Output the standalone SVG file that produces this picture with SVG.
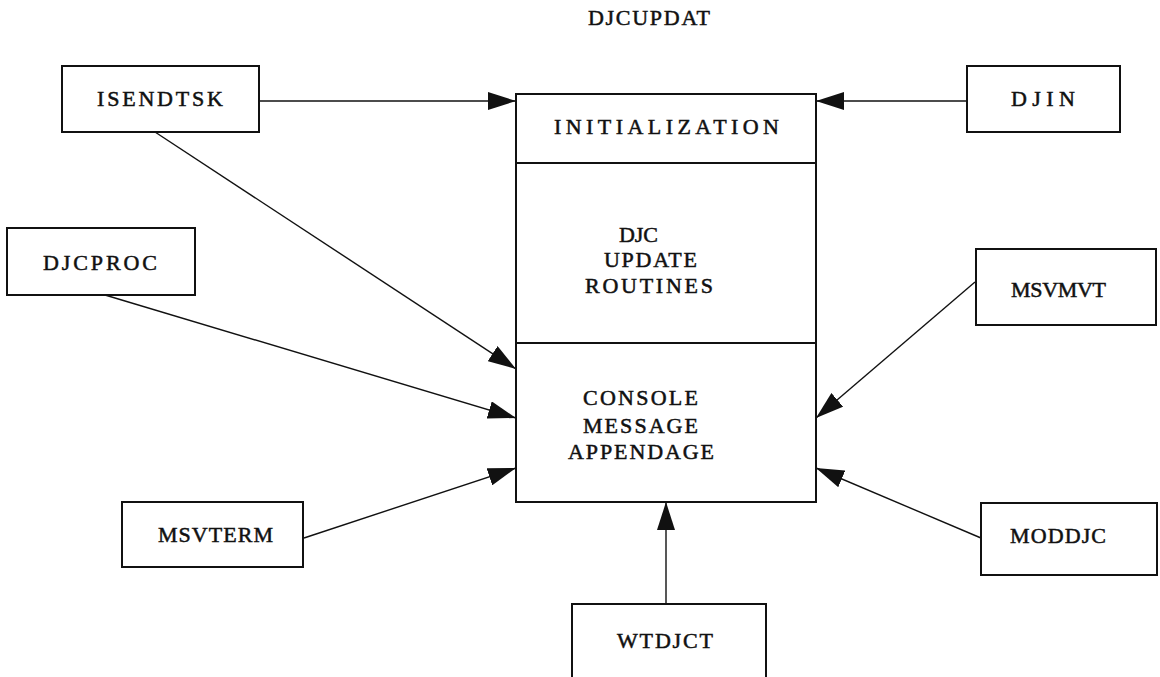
<svg xmlns="http://www.w3.org/2000/svg" width="1160" height="677" viewBox="0 0 1160 677">
<style>
.box{fill:#fff;stroke:#111;stroke-width:2}
.ln{fill:none;stroke:#111;stroke-width:1.4}
.t{font-family:"Liberation Serif","DejaVu Serif",serif;font-size:22px;fill:#111;stroke:#111;stroke-width:0.5}
</style>
<defs>
<marker id="ah" viewBox="0 0 28 18" refX="28" refY="9" markerWidth="28" markerHeight="18" markerUnits="userSpaceOnUse" orient="auto">
<path d="M0,0 L28,9 L0,18 Z" fill="#111"/>
</marker>
</defs>
<rect width="1160" height="677" fill="#fff"/>
<text id="title" class="t" x="588" y="25" textLength="122" lengthAdjust="spacing">DJCUPDAT</text>

<g id="connectors">
<line class="ln" x1="259" y1="101" x2="516" y2="101" marker-end="url(#ah)"/>
<line class="ln" x1="967" y1="101" x2="816" y2="101" marker-end="url(#ah)"/>
<line class="ln" x1="155" y1="132" x2="516" y2="369" marker-end="url(#ah)"/>
<line class="ln" x1="105" y1="295" x2="516" y2="418" marker-end="url(#ah)"/>
<line class="ln" x1="304" y1="538" x2="516" y2="468" marker-end="url(#ah)"/>
<line class="ln" x1="975" y1="282" x2="816" y2="418" marker-end="url(#ah)"/>
<line class="ln" x1="981" y1="538" x2="816" y2="468" marker-end="url(#ah)"/>
<line class="ln" x1="666" y1="604" x2="666" y2="502" marker-end="url(#ah)"/>
</g>

<g id="main">
<rect class="box" x="516" y="94" width="300" height="408"/>
<line class="box" x1="516" y1="163" x2="816" y2="163"/>
<line class="box" x1="516" y1="343" x2="816" y2="343"/>
<text class="t" x="554" y="134" textLength="225" lengthAdjust="spacing">INITIALIZATION</text>
<text class="t" x="619" y="242" textLength="39" lengthAdjust="spacing">DJC</text>
<text class="t" x="604" y="267" textLength="93" lengthAdjust="spacing">UPDATE</text>
<text class="t" x="585" y="293" textLength="128" lengthAdjust="spacing">ROUTINES</text>
<text class="t" x="583" y="405" textLength="115" lengthAdjust="spacing">CONSOLE</text>
<text class="t" x="583" y="433" textLength="115" lengthAdjust="spacing">MESSAGE</text>
<text class="t" x="568" y="459" textLength="146" lengthAdjust="spacing">APPENDAGE</text>
</g>

<g id="isendtsk">
<rect class="box" x="62" y="66" width="197" height="66"/>
<text class="t" x="97" y="106" textLength="126" lengthAdjust="spacing">ISENDTSK</text>
</g>
<g id="djin">
<rect class="box" x="967" y="66" width="153" height="66"/>
<text class="t" x="1011" y="106" textLength="64" lengthAdjust="spacing">DJIN</text>
</g>
<g id="djcproc">
<rect class="box" x="7" y="228" width="188" height="67"/>
<text class="t" x="43" y="270" textLength="114" lengthAdjust="spacing">DJCPROC</text>
</g>
<g id="msvmvt">
<rect class="box" x="976" y="249" width="180" height="76"/>
<text class="t" x="1011" y="297" textLength="95" lengthAdjust="spacing">MSVMVT</text>
</g>
<g id="msvterm">
<rect class="box" x="122" y="502" width="181" height="65"/>
<text class="t" x="158" y="542" textLength="115" lengthAdjust="spacing">MSVTERM</text>
</g>
<g id="moddjc">
<rect class="box" x="981" y="503" width="176" height="72"/>
<text class="t" x="1010" y="543" textLength="96" lengthAdjust="spacing">MODDJC</text>
</g>
<g id="wtdjct">
<path class="box" d="M572,680 L572,604 L766,604 L766,680"/>
<text class="t" x="617" y="648" textLength="96" lengthAdjust="spacing">WTDJCT</text>
</g>
</svg>
